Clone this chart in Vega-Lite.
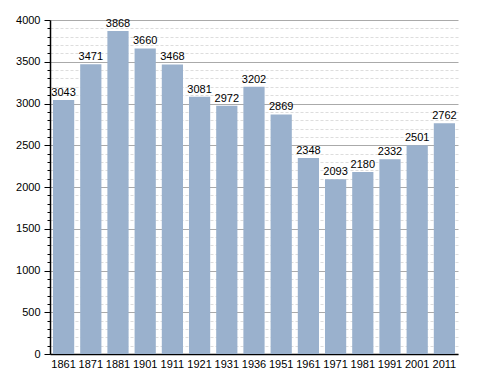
{
  "$schema": "https://vega.github.io/schema/vega-lite/v6.json",
  "autosize": "none",
  "width": 408,
  "height": 334,
  "padding": {"left": 50, "top": 20, "right": 30, "bottom": 19},
  "background": "white",
  "config": {"view": {"stroke": null}, "font": "Liberation Sans"},
  "data": {"values": [
    {"year": "1861", "pop": 3043},
    {"year": "1871", "pop": 3471},
    {"year": "1881", "pop": 3868},
    {"year": "1901", "pop": 3660},
    {"year": "1911", "pop": 3468},
    {"year": "1921", "pop": 3081},
    {"year": "1931", "pop": 2972},
    {"year": "1936", "pop": 3202},
    {"year": "1951", "pop": 2869},
    {"year": "1961", "pop": 2348},
    {"year": "1971", "pop": 2093},
    {"year": "1981", "pop": 2180},
    {"year": "1991", "pop": 2332},
    {"year": "2001", "pop": 2501},
    {"year": "2011", "pop": 2762}
  ]},
  "encoding": {
    "x": {"field": "year", "type": "ordinal", "sort": null,
      "scale": {"paddingInner": 0.22, "paddingOuter": 0.11},
      "axis": {"title": null, "labelAngle": 0, "labelFontSize": 11, "labelColor": "black", "ticks": false, "labelPadding": 4, "domainColor": "black", "domainWidth": 1.5}},
    "y": {"field": "pop", "type": "quantitative",
      "scale": {"domain": [0, 4000], "nice": false},
      "axis": {"title": null, "format": "d",
        "values": [0,100,200,300,400,500,600,700,800,900,1000,1100,1200,1300,1400,1500,1600,1700,1800,1900,2000,2100,2200,2300,2400,2500,2600,2700,2800,2900,3000,3100,3200,3300,3400,3500,3600,3700,3800,3900,4000],
        "labelExpr": "datum.value % 500 === 0 ? datum.label : ''",
        "labelFontSize": 11, "labelColor": "black", "labelPadding": 4,
        "domainColor": "black", "domainWidth": 1.5,
        "tickColor": "black",
        "tickSize": {"condition": {"test": "datum.value % 500 === 0", "value": 6}, "value": 3},
        "grid": true,
        "gridColor": {"condition": {"test": "datum.value % 500 === 0", "value": "#aaaaaa"}, "value": "#dddddd"},
        "gridDash": {"condition": {"test": "datum.value % 500 === 0", "value": []}, "value": [3, 2]},
        "gridWidth": 1}}
  },
  "layer": [
    {"mark": {"type": "bar", "color": "#9ab1cd"}},
    {"mark": {"type": "text", "baseline": "bottom", "dy": -2, "fontSize": 11, "color": "black"},
     "encoding": {"text": {"field": "pop", "type": "quantitative", "format": "d"}}}
  ]
}
